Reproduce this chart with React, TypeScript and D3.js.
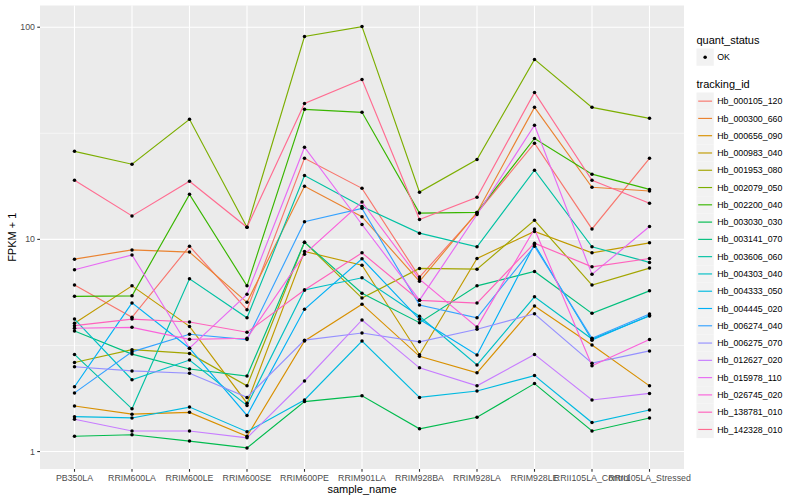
import React, { useEffect, useRef } from 'react';
import * as d3 from 'd3';

// sample order on the x axis
const samples = [
  'PB350LA', 'RRIM600LA', 'RRIM600LE', 'RRIM600SE', 'RRIM600PE', 'RRIM901LA',
  'RRIM928BA', 'RRIM928LA', 'RRIM928LE', 'RRII105LA_Control', 'RRII105LA_Stressed',
];

const trackingIds = [
  'Hb_000105_120', 'Hb_000300_660', 'Hb_000656_090', 'Hb_000983_040', 'Hb_001953_080',
  'Hb_002079_050', 'Hb_002200_040', 'Hb_003030_030', 'Hb_003141_070', 'Hb_003606_060',
  'Hb_004303_040', 'Hb_004333_050', 'Hb_004445_020', 'Hb_006274_040', 'Hb_006275_070',
  'Hb_012627_020', 'Hb_015978_110', 'Hb_026745_020', 'Hb_138781_010', 'Hb_142328_010',
];

// ggplot default hue palette, 20 levels
const colors = [
  '#F8766D', '#EA8331', '#D89000', '#C09B00', '#A3A500', '#7CAE00', '#39B600', '#00BB4E',
  '#00BF7D', '#00C1A3', '#00BFC4', '#00BAE0', '#00B0F6', '#35A2FF', '#9590FF', '#C77CFF',
  '#E76BF3', '#FA62DB', '#FF62BC', '#FF6C91',
];

const quantStatus = ['OK'];
const yTicks = [1, 10, 100];

// FPKM + 1 per sample
const hb_000105_120 = [6.09, 4.29, 9.29, 4.66, 24.1, 17.4, 6.64, 13.3, 28.4, 11.2, 24.1];
const hb_000300_660 = [8.07, 8.92, 8.71, 5.05, 17.8, 12.8, 6.34, 13.4, 41.9, 17.6, 16.9];
const hb_000656_090 = [1.64, 1.5, 1.53, 1.18, 3.32, 4.95, 2.81, 2.35, 4.85, 3.18, 2.04];
const hb_000983_040 = [4.02, 6.04, 3.89, 1.69, 8.77, 7.56, 2.86, 8.13, 10.9, 8.64, 9.63];
const hb_001953_080 = [2.63, 3.02, 2.9, 2.04, 9.7, 5.29, 7.3, 7.24, 12.3, 6.09, 7.32];
const hb_002079_050 = [26.0, 22.6, 36.8, 11.4, 90.4, 100.7, 16.7, 23.8, 70.5, 41.9, 37.2];
const hb_002200_040 = [5.39, 5.42, 16.3, 6.04, 41.0, 39.7, 13.3, 13.4, 29.9, 20.3, 17.2];
const hb_003030_030 = [1.18, 1.2, 1.12, 1.04, 1.72, 1.83, 1.28, 1.45, 2.09, 1.25, 1.44];
const hb_003141_070 = [3.7, 2.88, 2.45, 2.27, 9.7, 5.57, 4.05, 6.04, 7.06, 4.48, 5.72];
const hb_003606_060 = [2.87, 1.59, 6.52, 4.27, 20.0, 14.3, 10.7, 9.22, 21.2, 9.22, 7.79];
const hb_004303_040 = [4.21, 2.18, 2.7, 1.65, 5.77, 6.59, 4.34, 2.56, 5.36, 3.39, 4.35];
const hb_004333_050 = [1.46, 1.44, 1.62, 1.24, 1.75, 3.32, 1.8, 1.93, 2.28, 1.37, 1.57];
const hb_004445_020 = [2.02, 5.02, 3.07, 1.48, 4.68, 8.1, 4.2, 2.85, 9.46, 3.35, 4.38];
const hb_006274_040 = [1.89, 2.95, 3.57, 3.37, 12.1, 14.0, 4.9, 4.27, 9.29, 3.42, 4.45];
const hb_006275_070 = [2.51, 2.4, 2.34, 1.8, 3.35, 3.62, 3.29, 3.77, 4.46, 2.61, 2.98];
const hb_012627_020 = [1.42, 1.25, 1.25, 1.16, 2.15, 4.17, 2.48, 2.04, 2.87, 1.75, 1.88];
const hb_015978_110 = [7.19, 8.45, 3.07, 5.51, 27.2, 11.75, 5.17, 13.1, 34.5, 6.84, 11.5];
const hb_026745_020 = [3.81, 3.85, 3.38, 3.42, 8.52, 15.0, 6.5, 3.86, 11.2, 2.54, 3.37];
const hb_138781_010 = [3.92, 4.21, 4.08, 3.65, 5.77, 8.64, 5.16, 5.01, 9.6, 7.42, 8.13];
const hb_142328_010 = [19.0, 12.9, 18.8, 11.4, 43.7, 56.7, 12.4, 15.8, 49.3, 19.0, 14.8];

const seriesValues = [
  hb_000105_120, hb_000300_660, hb_000656_090, hb_000983_040, hb_001953_080,
  hb_002079_050, hb_002200_040, hb_003030_030, hb_003141_070, hb_003606_060,
  hb_004303_040, hb_004333_050, hb_004445_020, hb_006274_040, hb_006275_070,
  hb_012627_020, hb_015978_110, hb_026745_020, hb_138781_010, hb_142328_010,
];

const FONT = '"Liberation Sans", Arial, Helvetica, sans-serif';

const App: React.FC = () => {
  const svgRef = useRef<SVGSVGElement>(null);

  useEffect(() => {
    if (!svgRef.current) return;
    const svg = d3.select(svgRef.current);
    svg.selectAll('*').remove();

    const W = 800;
    const H = 500;
    const panel = { left: 40, right: 684, top: 5.5, bottom: 469 };

    svg.append('rect').attr('width', W).attr('height', H).attr('fill', '#ffffff');

    const x = d3.scalePoint<string>()
      .domain(samples)
      .range([panel.left, panel.right])
      .padding(0.6);

    // log scale with ggplot-style 5% expansion in log space
    const all = seriesValues.flat();
    const lmin = Math.log10(d3.min(all)!);
    const lmax = Math.log10(d3.max(all)!);
    const pad = (lmax - lmin) * 0.05;
    const y = d3.scaleLog()
      .domain([Math.pow(10, lmin - pad), Math.pow(10, lmax + pad)])
      .range([panel.bottom, panel.top]);

    // panel
    svg.append('rect')
      .attr('x', panel.left)
      .attr('y', panel.top)
      .attr('width', panel.right - panel.left)
      .attr('height', panel.bottom - panel.top)
      .attr('fill', '#EBEBEB');

    const minor = [Math.pow(10, 0.5), Math.pow(10, 1.5)];
    svg.append('g').selectAll('line').data(minor).enter().append('line')
      .attr('x1', panel.left).attr('x2', panel.right)
      .attr('y1', d => y(d)).attr('y2', d => y(d))
      .attr('stroke', '#ffffff').attr('stroke-width', 0.55);

    svg.append('g').selectAll('line').data(yTicks).enter().append('line')
      .attr('x1', panel.left).attr('x2', panel.right)
      .attr('y1', d => y(d)).attr('y2', d => y(d))
      .attr('stroke', '#ffffff').attr('stroke-width', 1.1);

    svg.append('g').selectAll('line').data(samples).enter().append('line')
      .attr('x1', d => x(d)!).attr('x2', d => x(d)!)
      .attr('y1', panel.top).attr('y2', panel.bottom)
      .attr('stroke', '#ffffff').attr('stroke-width', 1.1);

    // lines
    const line = d3.line<number>()
      .x((_, i) => x(samples[i])!)
      .y(d => y(d));

    svg.append('g').selectAll('path').data(seriesValues).enter().append('path')
      .attr('d', d => line(d))
      .attr('fill', 'none')
      .attr('stroke', (_, i) => colors[i])
      .attr('stroke-width', 1.15);

    // points
    const pts = seriesValues.flatMap(vals => vals.map((v, i) => ({ s: samples[i], v })));
    svg.append('g').selectAll('circle').data(pts).enter().append('circle')
      .attr('cx', d => x(d.s)!)
      .attr('cy', d => y(d.v))
      .attr('r', 1.75)
      .attr('fill', '#000000');

    // y axis
    const yAxis = svg.append('g');
    yAxis.selectAll('line').data(yTicks).enter().append('line')
      .attr('x1', panel.left - 2.75).attr('x2', panel.left)
      .attr('y1', d => y(d)).attr('y2', d => y(d))
      .attr('stroke', '#333333').attr('stroke-width', 1.1);
    yAxis.selectAll('text').data(yTicks).enter().append('text')
      .attr('x', panel.left - 5)
      .attr('y', d => y(d) + 3.1)
      .attr('text-anchor', 'end')
      .style('font-family', FONT).style('font-size', '8.8px')
      .attr('fill', '#4D4D4D')
      .text(d => String(d));

    // x axis
    const xAxis = svg.append('g');
    xAxis.selectAll('line').data(samples).enter().append('line')
      .attr('x1', d => x(d)!).attr('x2', d => x(d)!)
      .attr('y1', panel.bottom).attr('y2', panel.bottom + 2.75)
      .attr('stroke', '#333333').attr('stroke-width', 1.1);
    xAxis.selectAll('text').data(samples).enter().append('text')
      .attr('x', d => x(d)!)
      .attr('y', panel.bottom + 11.5)
      .attr('text-anchor', 'middle')
      .style('font-family', FONT).style('font-size', '8.8px')
      .attr('fill', '#4D4D4D')
      .text(d => d);

    svg.append('text')
      .attr('x', (panel.left + panel.right) / 2)
      .attr('y', 493)
      .attr('text-anchor', 'middle')
      .style('font-family', FONT).style('font-size', '11px')
      .attr('fill', '#000000')
      .text('sample_name');

    svg.append('text')
      .attr('transform', `translate(16,${(panel.top + panel.bottom) / 2}) rotate(-90)`)
      .attr('text-anchor', 'middle')
      .style('font-family', FONT).style('font-size', '11px')
      .attr('fill', '#000000')
      .text('FPKM + 1');

    // legends
    const lx = 696.5;
    const key = 17.28;
    const leg = svg.append('g');

    leg.append('text')
      .attr('x', lx).attr('y', 44)
      .style('font-family', FONT).style('font-size', '11px')
      .text('quant_status');
    const qs = leg.selectAll('g.qs').data(quantStatus).enter().append('g')
      .attr('class', 'qs')
      .attr('transform', (_, i) => `translate(${lx},${48.5 + i * key})`);
    qs.append('rect').attr('width', key).attr('height', key).attr('fill', '#F2F2F2');
    qs.append('circle').attr('cx', key / 2).attr('cy', key / 2).attr('r', 1.75).attr('fill', '#000');
    qs.append('text')
      .attr('x', key + 3.5).attr('y', key / 2 + 3.1)
      .style('font-family', FONT).style('font-size', '8.8px')
      .text(d => d);

    leg.append('text')
      .attr('x', lx).attr('y', 88)
      .style('font-family', FONT).style('font-size', '11px')
      .text('tracking_id');
    const ti = leg.selectAll('g.ti').data(trackingIds).enter().append('g')
      .attr('class', 'ti')
      .attr('transform', (_, i) => `translate(${lx},${92.5 + i * key})`);
    ti.append('rect').attr('width', key).attr('height', key).attr('fill', '#F2F2F2');
    ti.append('line')
      .attr('x1', 1.7).attr('x2', key - 1.7)
      .attr('y1', key / 2).attr('y2', key / 2)
      .attr('stroke', (_, i) => colors[i]).attr('stroke-width', 1.15);
    ti.append('text')
      .attr('x', key + 3.5).attr('y', key / 2 + 3.1)
      .style('font-family', FONT).style('font-size', '8.8px')
      .text(d => d);
  }, []);

  return (
    <div style={{ position: 'absolute', left: 0, top: 0 }}>
      <svg ref={svgRef} width={800} height={500} style={{ display: 'block' }} />
    </div>
  );
};

export default App;
